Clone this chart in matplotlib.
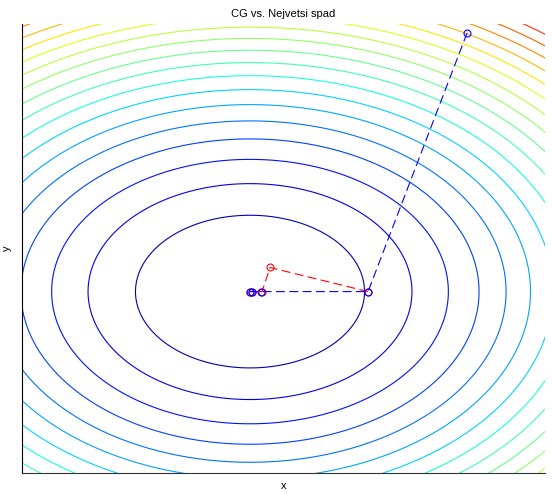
import numpy as np
import matplotlib.pyplot as plt
from matplotlib.colors import Normalize

# objective f = x^2 + 2.26*y^2
coef_x = 1.0
coef_y = 2.26
levels = np.arange(1, 21)

# steepest descent path (blue) and CG path (red)
sd_x = [1.895, 1.031, 0.096, 0.017, 0.0]
sd_y = [2.253, 0.0, 0.0, 0.0, 0.0]
cg_x = [1.031, 0.175, 0.105, 0.017, 0.0]
cg_y = [0.0, 0.210, 0.0, 0.0, 0.0]

x_lim = (-1.991, 2.576)
y_lim = (-1.581, 2.332)

xs = np.linspace(-2.3, 2.9, 400)
ys = np.linspace(-1.9, 2.6, 400)
X, Y = np.meshgrid(xs, ys)
Z = coef_x * X**2 + coef_y * Y**2

fig = plt.figure(figsize=(5.52, 4.94), dpi=100)
ax = fig.add_axes([22/552, (494-473)/494, (545-22)/552, (473-24)/494])

ax.contour(X, Y, Z, levels=levels, cmap='jet', norm=Normalize(0, 21), linewidths=0.8)

ax.plot(cg_x, cg_y, '--', color='red', lw=0.8, dashes=(8, 4),
        marker='o', ms=5, mfc='none', mec='red', mew=0.8)
ax.plot(sd_x, sd_y, '--', color='blue', lw=0.8, dashes=(8, 4),
        marker='o', ms=5, mfc='none', mec='blue', mew=0.8)

ax.set_xlim(x_lim)
ax.set_ylim(y_lim)
ax.set_xticks([])
ax.set_yticks([])
ax.spines['top'].set_visible(False)
ax.spines['right'].set_visible(False)
ax.spines['left'].set_color('black')
ax.spines['bottom'].set_color('#333333')

font = 'Liberation Sans'
ax.set_title('CG vs. Nejvetsi spad', fontsize=8, family=font, pad=5)
ax.set_xlabel('x', fontsize=8, family=font, labelpad=6)
ax.set_ylabel('y', fontsize=8, family=font, labelpad=7)

fig.savefig('out.png', dpi=100)
